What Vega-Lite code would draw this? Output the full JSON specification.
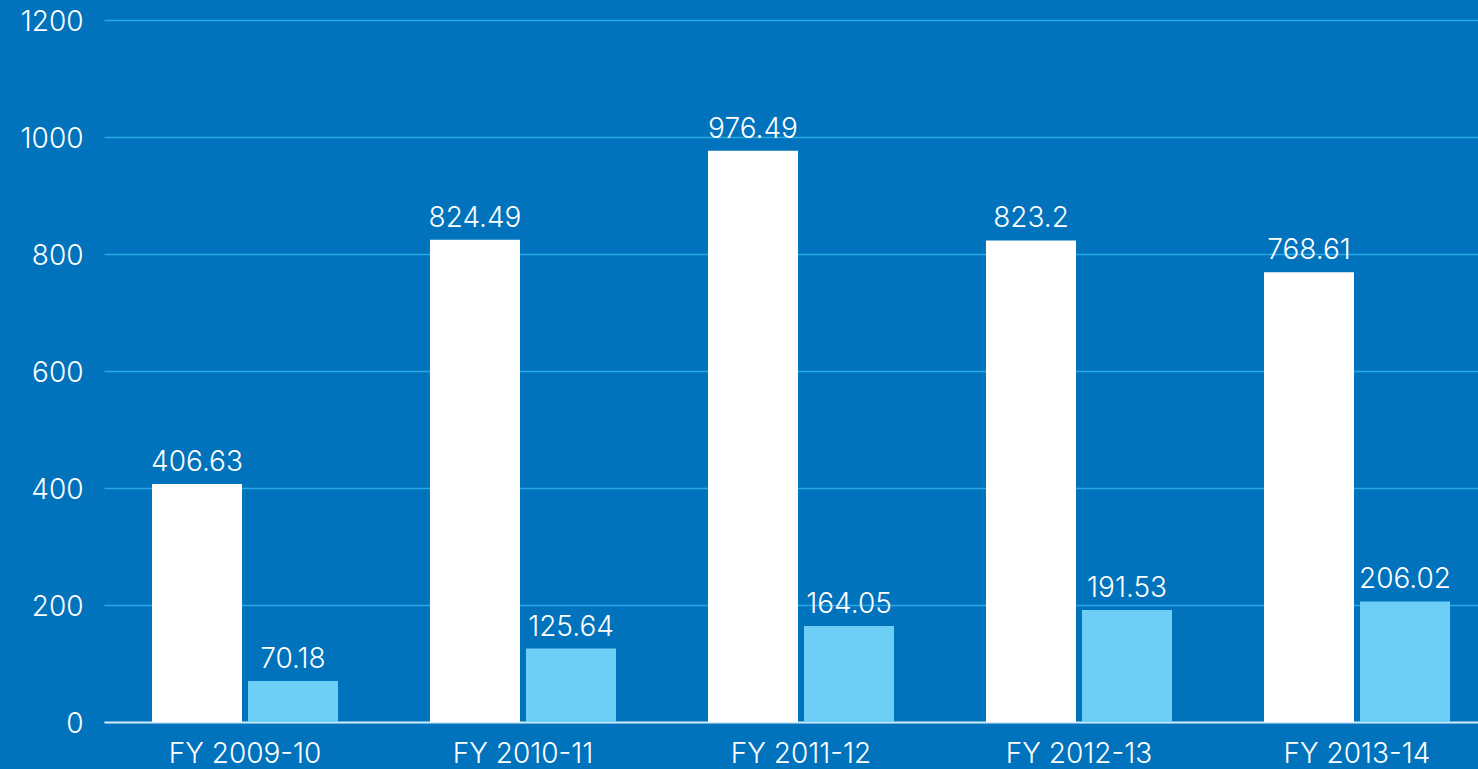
{
  "$schema": "https://vega.github.io/schema/vega-lite/v6.json",
  "width": 1394,
  "height": 702,
  "autosize": "none",
  "padding": {"left": 104, "top": 20, "right": 0, "bottom": 47},
  "background": "#0073bc",
  "config": {"view": {"stroke": null}, "font": "Inter"},
  "data": {
    "values": [
      {"year": "FY 2009-10", "series": "Series 1", "value": 406.63},
      {"year": "FY 2009-10", "series": "Series 2", "value": 70.18},
      {"year": "FY 2010-11", "series": "Series 1", "value": 824.49},
      {"year": "FY 2010-11", "series": "Series 2", "value": 125.64},
      {"year": "FY 2011-12", "series": "Series 1", "value": 976.49},
      {"year": "FY 2011-12", "series": "Series 2", "value": 164.05},
      {"year": "FY 2012-13", "series": "Series 1", "value": 823.2},
      {"year": "FY 2012-13", "series": "Series 2", "value": 191.53},
      {"year": "FY 2013-14", "series": "Series 1", "value": 768.61},
      {"year": "FY 2013-14", "series": "Series 2", "value": 206.02}
    ]
  },
  "encoding": {
    "x": {
      "field": "year", "type": "nominal", "sort": null,
      "scale": {"paddingInner": 0, "paddingOuter": 0.0072},
      "axis": {
        "title": null, "labelAngle": 0, "domain": true, "domainColor": "#cfe7f5", "domainWidth": 2,
        "ticks": false, "tickSize": 0, "labelPadding": 40, "labelBaseline": "alphabetic",
        "labelColor": "#ffffff", "labelFontSize": 28, "labelFont": "Inter", "labelFontWeight": 300
      }
    },
    "xOffset": {
      "field": "series", "type": "nominal", "sort": null,
      "scale": {"paddingInner": 0.0625, "paddingOuter": 0.479}
    },
    "y": {
      "field": "value", "type": "quantitative",
      "scale": {"domain": [0, 1200], "nice": false},
      "axis": {
        "title": null, "values": [0, 200, 400, 600, 800, 1000, 1200], "format": "d",
        "grid": true, "gridColor": "#29a9e1", "gridWidth": 1.5,
        "domain": false, "ticks": false, "tickSize": 0, "labelPadding": 21, "labelOffset": 2,
        "labelColor": "#ffffff", "labelFontSize": 28, "labelFont": "Inter", "labelFontWeight": 300
      }
    }
  },
  "layer": [
    {
      "mark": {"type": "bar"},
      "encoding": {
        "color": {"field": "series", "type": "nominal", "scale": {"range": ["#ffffff", "#6dcff6"]}, "legend": null}
      }
    },
    {
      "mark": {"type": "text", "baseline": "alphabetic", "dy": -13, "color": "#ffffff", "fontSize": 28, "font": "Inter", "fontWeight": 300},
      "encoding": {"text": {"field": "value", "type": "quantitative", "format": ".2~f"}}
    }
  ]
}
